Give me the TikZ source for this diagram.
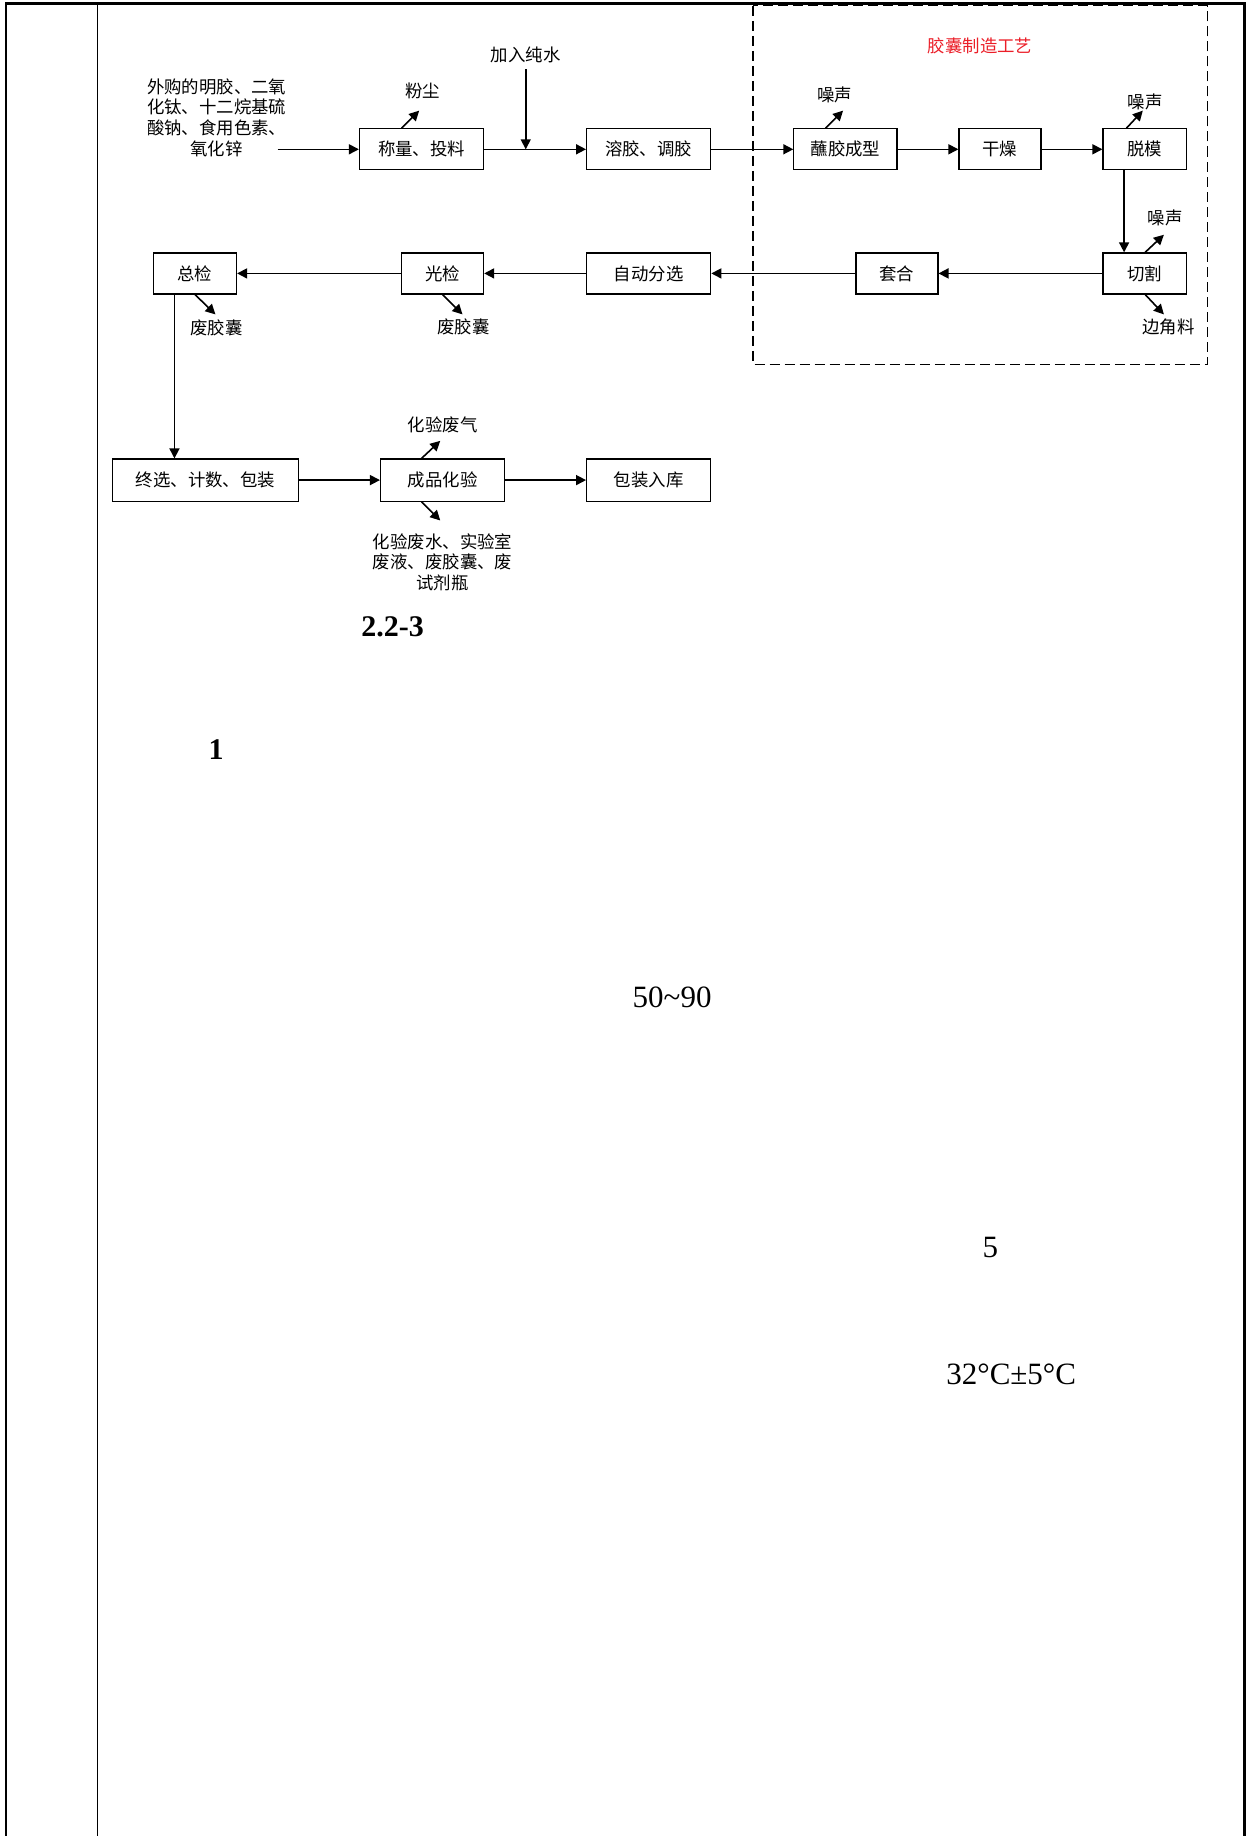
\documentclass[tikz,border=0pt]{standalone}
\usepackage{fontspec}
\setmainfont{Liberation Serif}
\newfontfamily\cjk{Noto Sans CJK SC}
\usetikzlibrary{arrows.meta,calc}
\definecolor{titlered}{RGB}{235,30,40}
\begin{document}
\begin{tikzpicture}[x=0.5853pt,y=-0.5853pt,
  box/.style={draw,line width=0.6pt,minimum height=35*0.5853pt,inner sep=0pt,
    font=\cjk\fontsize{8.7}{10.4}\selectfont},
  bw/.style={minimum width=#1*0.5853pt},
  lbl/.style={inner sep=0pt,font=\cjk\fontsize{8.7}{10.4}\selectfont,align=center},
  arr/.style={-{Triangle[length=5pt,width=5pt]},line width=0.8pt},
  big/.style={inner sep=0pt,font=\fontsize{15.5}{18}\selectfont},
  bigb/.style={inner sep=0pt,font=\bfseries\fontsize{15}{18}\selectfont}]
\useasboundingbox (0,0) rectangle (1066,1568);
% page frame
\draw[line width=1.2pt] (5,1568) -- (5,3) -- (1063,3) -- (1063,1568);
\draw[line width=0.6pt] (83,3) -- (83,1568);
% dashed area
\draw[line width=0.6pt,dash pattern=on 5pt off 2.5pt] (643,5) rectangle (1031,311);
\node[lbl,text=titlered] (title) at (837,39) {胶囊制造工艺};
% row 1
\node[lbl] (input) at (185,100.5) {外购的明胶、二氧\\化钛、十二烷基硫\\酸钠、食用色素、\\氧化锌};
\coordinate (inS) at (237,127.5);
\node[box,bw=106] (weigh) at (360,127.5) {称量、投料};
\node[box,bw=106] (dissolve) at (554,127.5) {溶胶、调胶};
\node[box,bw=88] (dip) at (722,127.5) {蘸胶成型};
\node[box,bw=70] (dry) at (854,127.5) {干燥};
\node[box,bw=71] (demold) at (977.5,127.5) {脱模};
% row 2
\node[box,bw=71] (cut) at (977.5,233.5) {切割};
\node[box,bw=70] (fit) at (766,233.5) {套合};
\node[box,bw=106] (sort) at (554,233.5) {自动分选};
\node[box,bw=70] (light) at (378,233.5) {光检};
\node[box,bw=71] (total) at (166.5,233.5) {总检};
% row 3
\node[box,bw=159,minimum height=36*0.5853pt] (final) at (175.5,410) {终选、计数、包装};
\node[box,bw=106,minimum height=36*0.5853pt] (test) at (378,410) {成品化验};
\node[box,bw=106,minimum height=36*0.5853pt] (store) at (554,410) {包装入库};
% labels
\node[lbl] (water) at (449,47) {加入纯水};
\node[lbl] (dust) at (361,78) {粉尘};
\node[lbl] (n1) at (713,81) {噪声};
\node[lbl] (n2) at (978,87) {噪声};
\node[lbl] (n3) at (995,186) {噪声};
\node[lbl] (scrap) at (998,279) {边角料};
\node[lbl] (w1) at (396,279) {废胶囊};
\node[lbl] (w2) at (185,280) {废胶囊};
\node[lbl] (gas) at (378,363) {化验废气};
\node[lbl,font=\cjk\fontsize{8.7}{10.25}\selectfont] (liq) at (378,480) {化验废水、实验室\\废液、废胶囊、废\\试剂瓶};
% main flow
\draw[arr] (inS) -- (weigh.west);
\draw[arr] (weigh) -- (dissolve);
\coordinate (wj) at (water.south |- weigh.east);
\draw[arr] ([yshift=-3pt]water.south) -- (wj);
\draw[arr] (dissolve) -- (dip);
\draw[arr] (dip) -- (dry);
\draw[arr] (dry) -- (demold);
\draw[arr] ([xshift=-17.5*0.5853pt]demold.south) -- ([xshift=-17.5*0.5853pt]cut.north);
\draw[arr] (cut) -- (fit);
\draw[arr] (fit) -- (sort);
\draw[arr] (sort) -- (light);
\draw[arr] (light) -- (total);
\draw[arr] ([xshift=-17.5*0.5853pt]total.south) -- ([xshift=-17.5*0.5853pt]total.south |- final.north);
\draw[arr] (final) -- (test);
\draw[arr] (test) -- (store);
% emissions
\draw[arr] ([xshift=-17*0.5853pt]weigh.north) -- ++(15,-15) coordinate (dustE);
\draw[arr] ([xshift=-17*0.5853pt]dip.north) -- ++(15,-15) coordinate (n1E);
\draw[arr] ([xshift=-15.5*0.5853pt]demold.north) -- ++(14,-15) coordinate (n2E);
\draw[arr] ([xshift=0.5*0.5853pt]cut.north) -- ++(16,-15) coordinate (n3E);
\draw[arr] ([xshift=0.5*0.5853pt]cut.south) -- ++(16,17) coordinate (scrapE);
\draw[arr] (light.south) -- ++(17,17) coordinate (w1E);
\draw[arr] (total.south) -- ++(17.5,17) coordinate (w2E);
\draw[arr] ([xshift=-18*0.5853pt]test.north) -- ++(16,-15) coordinate (gasE);
\draw[arr] ([xshift=-18*0.5853pt]test.south) -- ++(16,16) coordinate (liqE);
% text remnants
\node[bigb] (fig) at (335.3,535.6) {2.2-3};
\node[bigb] (one) at (184.5,639.8) {1};
\node[big] (range) at (574,851.6) {50\char"007E 90};
\node[big] (five) at (845.7,1065.2) {5};
\node[big] (temp) at (863.6,1173.7) {32°C±5°C};
\end{tikzpicture}
\end{document}
